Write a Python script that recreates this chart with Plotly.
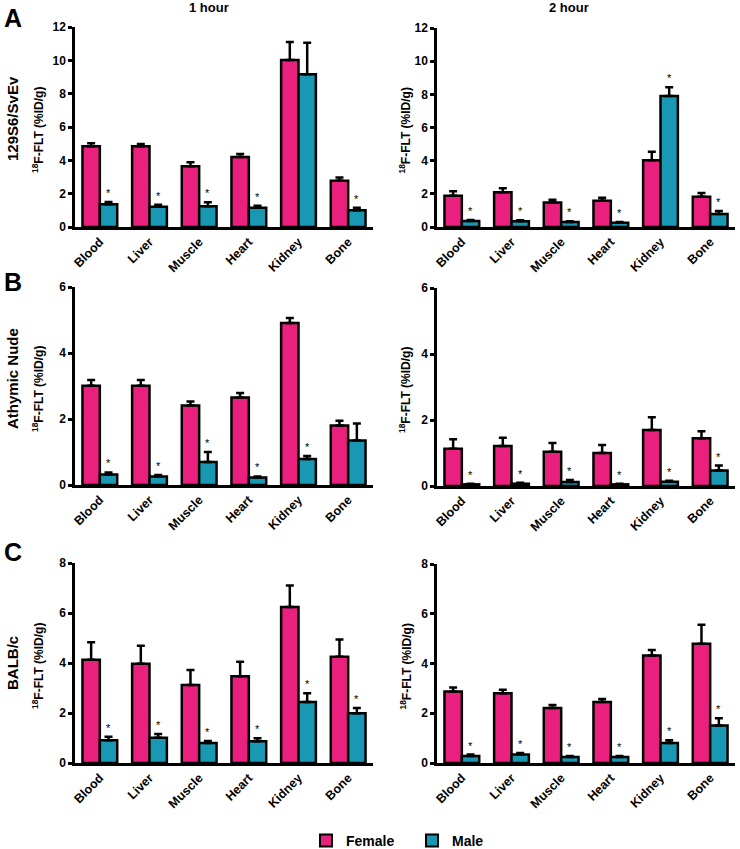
import plotly.graph_objects as go

organs = ["Blood", "Liver", "Muscle", "Heart", "Kidney", "Bone"]

# Row A: 129S6/SvEv
a1_f = [4.84, 4.84, 3.65, 4.20, 10.02, 2.77]
a1_f_err = [0.18, 0.14, 0.23, 0.18, 1.08, 0.20]
a1_m = [1.37, 1.22, 1.25, 1.16, 9.16, 1.00]
a1_m_err = [0.13, 0.11, 0.23, 0.12, 1.90, 0.16]
a1_sig = [1, 1, 1, 1, 0, 1]

a2_f = [1.89, 2.09, 1.47, 1.59, 4.02, 1.83]
a2_f_err = [0.26, 0.24, 0.18, 0.18, 0.52, 0.22]
a2_m = [0.36, 0.34, 0.30, 0.26, 7.90, 0.78]
a2_m_err = [0.06, 0.06, 0.04, 0.04, 0.52, 0.18]
a2_sig = [1, 1, 1, 1, 1, 1]

# Row B: Athymic Nude
b1_f = [3.01, 3.01, 2.41, 2.65, 4.91, 1.80]
b1_f_err = [0.17, 0.17, 0.12, 0.14, 0.15, 0.15]
b1_m = [0.32, 0.26, 0.70, 0.23, 0.79, 1.35]
b1_m_err = [0.06, 0.04, 0.30, 0.03, 0.09, 0.51]
b1_sig = [1, 1, 1, 1, 1, 0]

b2_f = [1.13, 1.21, 1.04, 1.00, 1.70, 1.45]
b2_f_err = [0.29, 0.25, 0.26, 0.24, 0.38, 0.21]
b2_m = [0.05, 0.07, 0.12, 0.05, 0.13, 0.47]
b2_m_err = [0.02, 0.03, 0.06, 0.02, 0.03, 0.15]
b2_sig = [1, 1, 1, 1, 1, 1]

# Row C: BALB/c
c1_f = [4.13, 3.97, 3.12, 3.47, 6.24, 4.25]
c1_f_err = [0.70, 0.72, 0.60, 0.58, 0.86, 0.69]
c1_m = [0.91, 1.01, 0.80, 0.87, 2.44, 1.99]
c1_m_err = [0.14, 0.15, 0.08, 0.12, 0.35, 0.21]
c1_sig = [1, 1, 1, 1, 1, 1]

c2_f = [2.87, 2.80, 2.21, 2.45, 4.32, 4.79]
c2_f_err = [0.17, 0.14, 0.12, 0.12, 0.22, 0.77]
c2_m = [0.28, 0.34, 0.24, 0.24, 0.80, 1.51]
c2_m_err = [0.06, 0.06, 0.04, 0.04, 0.11, 0.29]
c2_sig = [1, 1, 1, 1, 1, 1]

col_titles = ["1 hour", "2 hour"]
row_labels = ["129S6/SvEv", "Athymic Nude", "BALB/c"]
panel_letters = ["A", "B", "C"]
y_max = [12, 6, 8]
y_title = "<sup>18</sup>F-FLT (%ID/g)"

FEMALE = "#EA207F"
MALE = "#1898B3"
FONT = "Arial, Liberation Sans, sans-serif"

W, H = 740, 849
# pixel domains
x_dom_px = [(75, 373), (437, 735)]
y_dom_px = [[(227, 27), (227, 28)], [(485, 287), (486, 288)], [(763, 563), (763, 564)]]

panels = [
    [(a1_f, a1_f_err, a1_m, a1_m_err, a1_sig), (a2_f, a2_f_err, a2_m, a2_m_err, a2_sig)],
    [(b1_f, b1_f_err, b1_m, b1_m_err, b1_sig), (b2_f, b2_f_err, b2_m, b2_m_err, b2_sig)],
    [(c1_f, c1_f_err, c1_m, c1_m_err, c1_sig), (c2_f, c2_f_err, c2_m, c2_m_err, c2_sig)],
]

fig = go.Figure()
annotations = []
bargap = 0.30

idx = 0
for r in range(3):
    for c in range(2):
        idx += 1
        xa = "x" if idx == 1 else f"x{idx}"
        ya = "y" if idx == 1 else f"y{idx}"
        f, fe, m, me, sig = panels[r][c]
        fig.add_trace(go.Bar(
            x=organs, y=f, name="Female", marker=dict(color=FEMALE, line=dict(color="black", width=2.5)),
            error_y=dict(type="data", array=fe, arrayminus=[0] * len(fe), symmetric=False,
                         color="black", thickness=2.5, width=4),
            xaxis=xa, yaxis=ya, showlegend=(idx == 1), legendgroup="F"))
        fig.add_trace(go.Bar(
            x=organs, y=m, name="Male", marker=dict(color=MALE, line=dict(color="black", width=2.5)),
            error_y=dict(type="data", array=me, arrayminus=[0] * len(me), symmetric=False,
                         color="black", thickness=2.5, width=4),
            xaxis=xa, yaxis=ya, showlegend=(idx == 1), legendgroup="M"))

        x0, x1 = x_dom_px[c]
        yb, yt = y_dom_px[r][c]
        axis_common = dict(showline=True, linecolor="black", linewidth=2.5, mirror=False,
                           showgrid=False, zeroline=False)
        fig.layout[f"xaxis{'' if idx == 1 else idx}"] = dict(
            domain=[x0 / W, x1 / W], anchor=ya, tickangle=-45,
            tickfont=dict(family=FONT, size=12.5, color="black", weight="bold"),
            ticks="", **axis_common)
        fig.layout[f"yaxis{'' if idx == 1 else idx}"] = dict(
            domain=[1 - yb / H, 1 - yt / H], anchor=xa, range=[0, y_max[r]], dtick=2,
            ticks="outside", ticklen=4, tickwidth=2.5, tickcolor="black",
            tickfont=dict(family=FONT, size=12, color="black", weight="bold"), **axis_common)

        # significance asterisks above male bars
        cat_w = (x1 - x0) / 6.0
        male_off = cat_w * (1 - bargap) / 4.0
        for i, organ in enumerate(organs):
            if sig[i]:
                annotations.append(dict(
                    x=organ, y=m[i] + me[i], xref=xa, yref=ya, text="*", showarrow=False,
                    xshift=male_off, yshift=1, yanchor="bottom",
                    font=dict(family=FONT, size=11, color="black")))

        # y-axis title
        tx = 38 if c == 0 else 405
        annotations.append(dict(
            x=tx / W, y=1 - ((yb + yt) / 2 + 3) / H, xref="paper", yref="paper", text=y_title,
            textangle=-90, showarrow=False, xanchor="center", yanchor="middle",
            font=dict(family=FONT, size=12, color="black", weight="bold")))

# column titles
for c, t in enumerate(col_titles):
    cx = [209, 569][c]
    annotations.append(dict(x=cx / W, y=1 - 8 / H, xref="paper", yref="paper", text=t,
                            showarrow=False, xanchor="center", yanchor="middle",
                            font=dict(family=FONT, size=13, color="black", weight="bold")))

# row labels and panel letters
row_y = [119, 379, 663]
letter_y = [18, 282, 552]
for r in range(3):
    annotations.append(dict(x=12 / W, y=1 - row_y[r] / H, xref="paper", yref="paper", text=row_labels[r],
                            textangle=-90, showarrow=False, xanchor="center", yanchor="middle",
                            font=dict(family=FONT, size=15, color="black", weight="bold")))
    annotations.append(dict(x=2 / W, y=1 - letter_y[r] / H, xref="paper", yref="paper", text=panel_letters[r],
                            showarrow=False, xanchor="left", yanchor="middle",
                            font=dict(family=FONT, size=25, color="black", weight="bold")))

fig.update_layout(
    width=W, height=H, barmode="group", bargap=bargap, bargroupgap=0,
    plot_bgcolor="white", paper_bgcolor="white",
    margin=dict(l=0, r=0, t=0, b=0, autoexpand=False),
    annotations=annotations,
    legend=dict(orientation="h", x=306 / W, xanchor="left", y=1 - 841 / H, yanchor="middle",
                font=dict(family=FONT, size=14, color="black", weight="bold"),
                itemsizing="constant", tracegroupgap=0, entrywidth=61),
    font=dict(family=FONT, color="black"),
)

fig.write_html("out.html", config={"displayModeBar": False},
               post_script="document.body.style.margin='0';document.body.style.overflow='hidden';")
